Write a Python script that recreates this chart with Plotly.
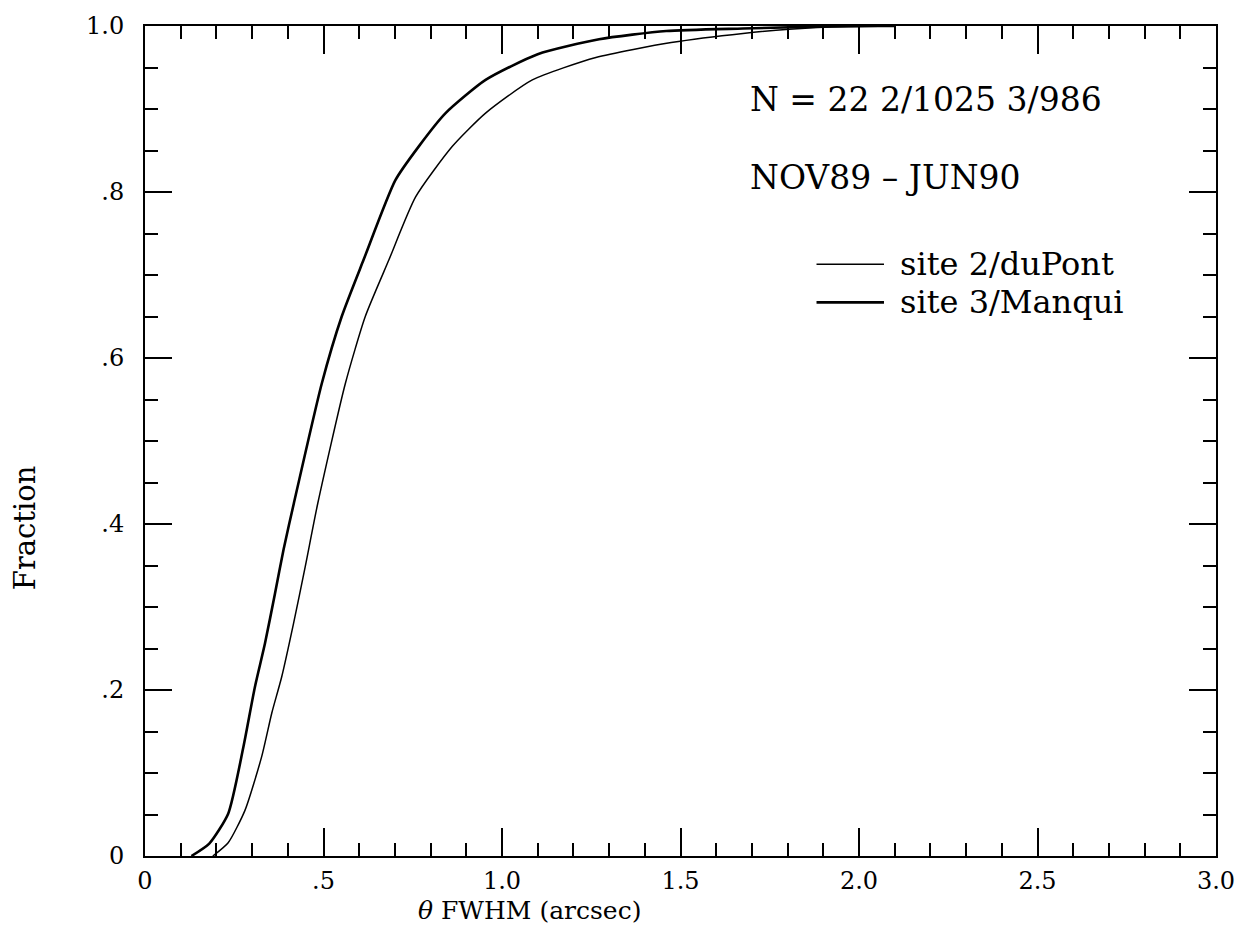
import plotly.graph_objects as go

# site 3 / Manqui (thick, left curve)
site3_x = [0.13, 0.18, 0.233, 0.275, 0.308, 0.336, 0.364, 0.388, 0.417, 0.495, 0.551,
           0.612, 0.701, 0.767, 0.842, 0.954, 1.1, 1.272, 1.46, 1.675, 1.97, 2.1]
site3_y = [0.0, 0.015, 0.051, 0.13, 0.204, 0.256, 0.316, 0.369, 0.425, 0.569, 0.65,
           0.718, 0.814, 0.855, 0.895, 0.935, 0.966, 0.984, 0.994, 0.997, 1.0, 1.0]

# site 2 / duPont (thin, right curve)
site2_x = [0.19, 0.233, 0.28, 0.327, 0.355, 0.383, 0.416, 0.449, 0.484, 0.561, 0.617,
           0.683, 0.758, 0.861, 0.954, 1.085, 1.263, 1.474, 1.675, 1.87, 2.1]
site2_y = [0.0, 0.016, 0.055, 0.12, 0.172, 0.216, 0.28, 0.349, 0.425, 0.569, 0.65,
           0.718, 0.794, 0.855, 0.895, 0.935, 0.962, 0.980, 0.991, 0.998, 1.0]

x_tickvals = [0, 0.5, 1.0, 1.5, 2.0, 2.5, 3.0]
x_ticktext = ["0", ".5", "1.0", "1.5", "2.0", "2.5", "3.0"]
y_tickvals = [0, 0.2, 0.4, 0.6, 0.8, 1.0]
y_ticktext = ["0", ".2", ".4", ".6", ".8", "1.0"]

FONT = "DejaVu Serif"

fig = go.Figure()
fig.add_trace(go.Scatter(x=site2_x, y=site2_y, mode="lines", name="site 2/duPont",
                         line=dict(color="black", width=1.5, shape="spline", smoothing=0.6)))
fig.add_trace(go.Scatter(x=site3_x, y=site3_y, mode="lines", name="site 3/Manqui",
                         line=dict(color="black", width=2.6, shape="spline", smoothing=0.6)))
# empty trace so the overlaid minor-tick axes are drawn
fig.add_trace(go.Scatter(x=[], y=[], xaxis="x2", yaxis="y2", showlegend=False,
                         hoverinfo="skip"))

axis_common = dict(showline=True, linecolor="black", linewidth=2, mirror="ticks",
                   ticks="inside", tickcolor="black", tickwidth=2, showgrid=False,
                   zeroline=False)
tfont = dict(family=FONT, size=24, color="black")

fig.update_layout(
    xaxis=dict(range=[0, 3.0], tickmode="array", tickvals=x_tickvals, ticktext=x_ticktext,
               ticklen=28, ticklabelstandoff=2, tickfont=tfont, **axis_common),
    yaxis=dict(range=[0, 1.0], tickmode="array", tickvals=y_tickvals, ticktext=y_ticktext,
               ticklen=27, ticklabelstandoff=14, tickfont=tfont, **axis_common),
    xaxis2=dict(range=[0, 3.0], overlaying="x", anchor="y2", side="bottom",
                tickmode="linear", tick0=0, dtick=0.1, ticklen=13,
                showticklabels=False, **axis_common),
    yaxis2=dict(range=[0, 1.0], overlaying="y", anchor="x2", side="left",
                tickmode="linear", tick0=0, dtick=0.05, ticklen=13,
                showticklabels=False, **axis_common),
)

# axis titles
fig.add_annotation(x=0.359, y=-0.066, xref="paper", yref="paper", xanchor="center",
                   yanchor="middle", text="<i>θ</i> FWHM (arcsec)", showarrow=False,
                   font=dict(family=FONT, size=25, color="black"))
fig.add_annotation(x=-0.112, y=0.395, xref="paper", yref="paper", xanchor="center",
                   yanchor="middle", text="Fraction", textangle=-90, showarrow=False,
                   font=dict(family=FONT, size=29, color="black"))

txt = dict(family=FONT, size=33, color="black")
fig.add_annotation(x=0.563, y=0.911, xref="paper", yref="paper", xanchor="left",
                   yanchor="middle", text="N = 22 2/1025 3/986", showarrow=False, font=txt)
fig.add_annotation(x=0.563, y=0.818, xref="paper", yref="paper", xanchor="left",
                   yanchor="middle", text="NOV89 – JUN90", showarrow=False, font=txt)

legend_items = [("site 2/duPont", 1.5, 0.713), ("site 3/Manqui", 2.6, 0.667)]
for label, w, yp in legend_items:
    fig.add_shape(type="line", xref="paper", yref="paper", x0=0.627, x1=0.690, y0=yp, y1=yp,
                  line=dict(color="black", width=w))
    fig.add_annotation(x=0.703, y=yp, xref="paper", yref="paper", xanchor="left",
                       yanchor="middle", text=label, showarrow=False,
                       font=dict(family=FONT, size=32, color="black"))

fig.update_layout(width=1249, height=933, showlegend=False,
                  paper_bgcolor="white", plot_bgcolor="white",
                  margin=dict(l=145, r=33, t=26, b=77))

fig.write_html("out.html")
